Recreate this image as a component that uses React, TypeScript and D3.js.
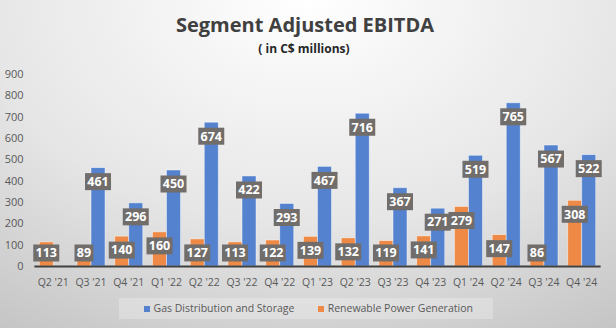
import React from "react";
import * as d3 from "d3";

const quarters = ["Q2 '21", "Q3 '21", "Q4 '21", "Q1 '22", "Q2 '22", "Q3 '22", "Q4 '22", "Q1 '23", "Q2 '23", "Q3 '23", "Q4 '23", "Q1 '24", "Q2 '24", "Q3 '24", "Q4 '24"];
const gasDistribution: (number | null)[] = [null, 461, 296, 450, 674, 422, 293, 467, 716, 367, 271, 519, 765, 567, 522];
const renewablePower: (number | null)[] = [113, 89, 140, 160, 127, 113, 122, 139, 132, 119, 141, 279, 147, 86, 308];
const yTicks = [0, 100, 200, 300, 400, 500, 600, 700, 800, 900];

const W = 616;
const H = 328;
const BLUE = "#5482cf";
const ORANGE = "#ee8a45";
const LABEL_BG = "#716d6b";
const FONT = "'Open Sans', 'DejaVu Sans', sans-serif";

export default function App() {
  const x0 = d3.scaleBand<string>().domain(quarters).range([34.4, 600.6]).paddingInner(0.258).paddingOuter(0.129);
  const x1 = d3.scaleBand<string>().domain(["ren", "gas"]).range([0, x0.bandwidth()]).padding(0);
  const y = d3.scaleLinear().domain([0, 900]).range([266, 74]);

  const series = [
    { key: "ren", values: renewablePower, color: ORANGE },
    { key: "gas", values: gasDistribution, color: BLUE },
  ];

  const bars: React.ReactNode[] = [];
  const labels: React.ReactNode[] = [];
  series.forEach((s) => {
    s.values.forEach((v, i) => {
      if (v == null) return;
      const bx = (x0(quarters[i]) ?? 0) + (x1(s.key) ?? 0);
      const bw = x1.bandwidth();
      bars.push(
        <rect key={`b-${s.key}-${i}`} x={bx} y={y(v)} width={bw} height={y(0) - y(v)} fill={s.color} stroke="rgba(255,255,255,0.55)" strokeWidth={0.8} />
      );
      const txt = String(v);
      const lw = txt.length * 7 + 5;
      const cy = Math.min(y(v) + 14, 253);
      const cx = bx + bw / 2;
      labels.push(
        <g key={`l-${s.key}-${i}`}>
          <rect x={cx - lw / 2} y={cy - 8.5} width={lw} height={17} fill={LABEL_BG} />
          <text x={cx} y={cy + 4.3} textAnchor="middle" fontFamily={FONT} fontWeight={700} fontSize={12.5} fill="#ffffff">{txt}</text>
        </g>
      );
    });
  });

  return (
    <svg width={W} height={H} style={{ position: "absolute", left: 0, top: 0 }}>
      <defs>
        <radialGradient id="bg" cx="50%" cy="0%" r="95%" fx="50%" fy="0%" gradientTransform="translate(0.5 0) scale(1 1.3) translate(-0.5 0)">
          <stop offset="0%" stopColor="#ffffff" />
          <stop offset="55%" stopColor="#e6e6e6" />
          <stop offset="100%" stopColor="#c2c2c2" />
        </radialGradient>
      </defs>
      <rect x={0} y={0} width={W} height={H} fill="url(#bg)" />
      <text x={305} y={32} textAnchor="middle" fontFamily={FONT} fontWeight={700} fontSize={20} fill="#404040">Segment Adjusted EBITDA</text>
      <text x={304} y={53} textAnchor="middle" fontFamily={FONT} fontWeight={700} fontSize={12} fill="#262626">( in C$ millions)</text>
      {yTicks.map((t) => (
        <text key={t} x={23.5} y={y(t) + 4} textAnchor="end" fontFamily={FONT} fontSize={11} fill="#595959">{t}</text>
      ))}
      {bars}
      <line x1={34.4} x2={600.6} y1={y(0) + 0.5} y2={y(0) + 0.5} stroke="#404040" strokeWidth={2} />
      {labels}
      {quarters.map((q) => (
        <text key={q} x={(x0(q) ?? 0) + x0.bandwidth() / 2} y={286} textAnchor="middle" fontFamily={FONT} fontSize={10.5} fill="#595959">{q}</text>
      ))}
      <g>
        <rect x={119} y={298} width={374} height={21} fill="rgba(255,255,255,0.25)" />
        <rect x={144} y={306} width={6} height={6} fill={BLUE} />
        <text x={153.5} y={312} fontFamily={FONT} fontSize={10.5} fill="#595959">Gas Distribution and Storage</text>
        <rect x={318} y={306} width={6} height={6} fill={ORANGE} />
        <text x={327.7} y={312} fontFamily={FONT} fontSize={10.5} fill="#595959">Renewable Power Generation</text>
      </g>
    </svg>
  );
}
